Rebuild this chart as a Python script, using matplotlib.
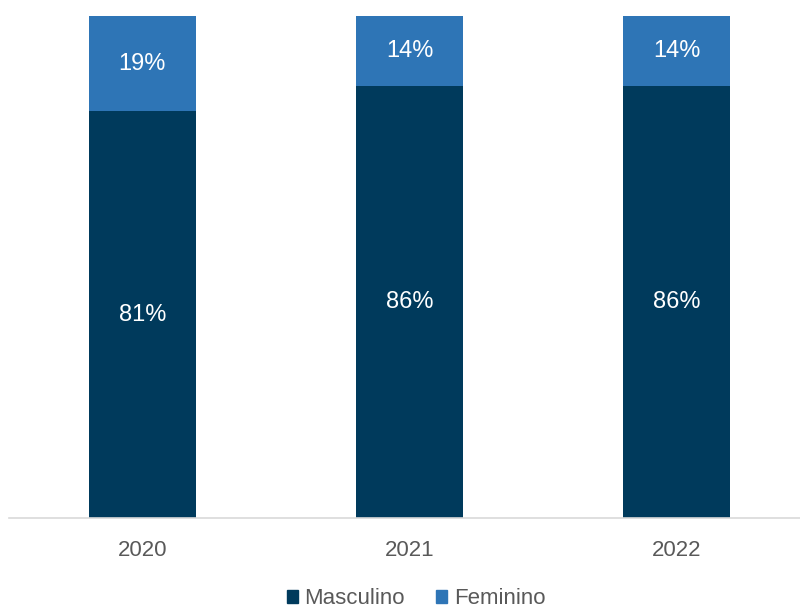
import matplotlib
matplotlib.use('Agg')
import matplotlib.pyplot as plt
from matplotlib.patches import Patch

plt.rcParams['font.family'] = ['Liberation Sans', 'DejaVu Sans']

anos = ['2020', '2021', '2022']
masculino = [81, 86, 86]
feminino = [19, 14, 14]

cor_masc = '#003a5c'
cor_fem = '#2e75b6'

fig = plt.figure(figsize=(8, 6.08), dpi=100)
ax = fig.add_axes([0.011, 0.148, 0.989, 0.826])

x = range(len(anos))
b1 = ax.bar(x, masculino, width=0.4, color=cor_masc)
b2 = ax.bar(x, feminino, width=0.4, bottom=masculino, color=cor_fem)

for i in x:
    ax.text(i, masculino[i] / 2, f'{masculino[i]}%', ha='center', va='center',
            color='white', fontsize=17)
    ax.text(i, masculino[i] + feminino[i] / 2, f'{feminino[i]}%', ha='center',
            va='center', color='white', fontsize=17)

ax.set_xlim(-0.5, 2.462)
ax.set_ylim(0, 100)
ax.set_xticks(list(x))
ax.set_xticklabels(anos, fontsize=16, color='#595959')
ax.tick_params(axis='x', length=0, pad=16)
ax.set_yticks([])
for s in ['top', 'right', 'left']:
    ax.spines[s].set_visible(False)
ax.spines['bottom'].set_color('#d9d9d9')
ax.spines['bottom'].set_linewidth(1.2)

handles = [Patch(color=cor_masc), Patch(color=cor_fem)]
fig.legend(handles, ['Masculino', 'Feminino'], loc='center',
           bbox_to_anchor=(0.52, 0.015), ncol=2, frameon=False, fontsize=16,
           handlelength=0.5, handleheight=0.5, handletextpad=0.3,
           columnspacing=1.4, labelcolor='#595959')

fig.savefig('out.png', dpi=100)
